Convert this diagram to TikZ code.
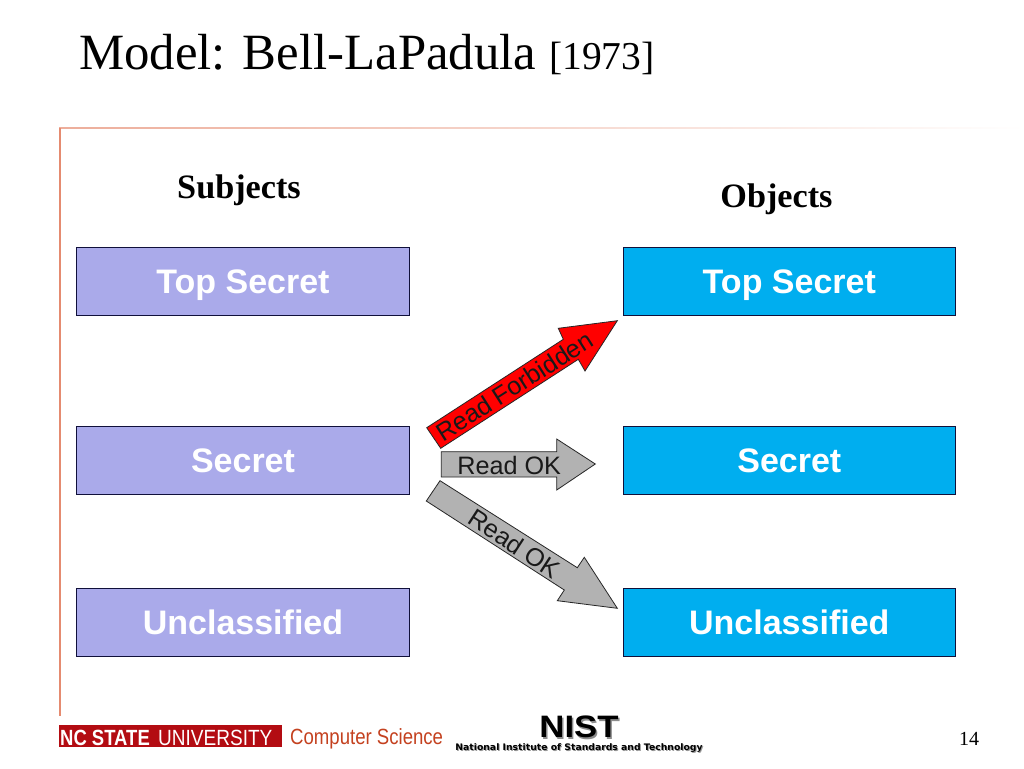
\documentclass[tikz,border=0pt]{standalone}
\usepackage{fontspec}
\setmainfont{Liberation Serif}
\setsansfont{Liberation Sans}
\newfontfamily\dejab{DejaVu Sans}
\definecolor{subjfill}{HTML}{AAAAEA}
\definecolor{objfill}{HTML}{00AEEF}
\definecolor{boxedge}{HTML}{10103A}
\definecolor{arrowgray}{HTML}{B2B2B2}
\definecolor{ncred}{HTML}{B30C12}
\definecolor{cstext}{HTML}{C4411F}
\definecolor{rulecol}{HTML}{E58B70}
\tikzset{
  x=1pt,y=-1pt,
  levelbox/.style={draw=boxedge,line width=0.9pt,minimum width=332.5pt,minimum height=68.5pt,inner sep=0pt,text height=24pt,text depth=0pt,text=white,font=\sffamily\bfseries\fontsize{34}{36}\selectfont},
  subjbox/.style={levelbox,fill=subjfill},
  objbox/.style={levelbox,fill=objfill},
  blockarrow/.style={draw=black!85,line width=0.8pt,line join=miter},
  arrowlabel/.style={inner sep=0pt,text height=18pt,text depth=0pt,font=\sffamily\fontsize{25.2}{28}\selectfont,text=black!90},
  heading/.style={inner sep=0pt,font=\rmfamily\bfseries\fontsize{34.2}{36}\selectfont}
}
\begin{document}
\begin{tikzpicture}
\useasboundingbox (0,0) rectangle (1024,768);
\fill[white] (0,0) rectangle (1024,768);
% title
\node[inner sep=0pt,anchor=base west,font=\rmfamily\fontsize{50.8}{56}\selectfont] (title) at (79,69) {Model: Bell-LaPadula};
\node[inner sep=0pt,anchor=base west,font=\rmfamily\fontsize{39.5}{42}\selectfont] (year) at (549,69) {[1973]};
% frame rules
\fill[left color=rulecol!70,right color=white] (59,127.2) rectangle (1024,128.8);
\fill[rulecol] (58.6,128) rectangle (60.6,716);
% headings
\node[heading,anchor=base] (subj) at (239,198) {Subjects};
\node[heading,anchor=base] (obj) at (776.5,207) {Objects};
% boxes
\node[subjbox] (s1) at (243,281.5) {Top Secret};
\node[subjbox] (s2) at (243,460.5) {Secret};
\node[subjbox] (s3) at (243,622.5) {Unclassified};
\node[objbox] (o1) at (789.3,281.5) {Top Secret};
\node[objbox] (o2) at (789.3,460.5) {Secret};
\node[objbox] (o3) at (789.3,622.5) {Unclassified};
% block arrows
\draw[blockarrow,fill=red] (426.7,427.7) -- (563.3,339.3) -- (558.3,328.3) -- (617.3,320.7) -- (585,371) -- (578.3,359.3) -- (440.7,448.3) -- cycle;
\draw[blockarrow,fill=arrowgray] (441.3,451.7) -- (556.7,451.7) -- (556.7,439) -- (595.3,464) -- (556.7,490) -- (556.7,477) -- (441.3,477) -- cycle;
\draw[blockarrow,fill=arrowgray] (440,480.7) -- (577.3,567.7) -- (584.3,557.3) -- (617.3,608.3) -- (557.3,600.7) -- (564.3,590) -- (426.3,501) -- cycle;
\node[arrowlabel,rotate=32.5] (lf) at (514.5,386) {Read Forbidden};
\node[arrowlabel] (lo) at (509.2,465) {Read OK};
\node[arrowlabel,rotate=-33] (ld) at (514.5,543.5) {Read OK};
% footer
\fill[ncred] (59,725) rectangle (282,747);
\node[inner sep=0pt,anchor=base west,text=white,font=\sffamily\bfseries\fontsize{22}{24}\selectfont,xscale=0.84] (nc) at (60,745) {NC STATE};
\node[inner sep=0pt,anchor=base west,text=white,font=\sffamily\fontsize{22}{24}\selectfont,xscale=0.865] (ncu) at (158,745) {UNIVERSITY};
\node[inner sep=0pt,anchor=base west,text=cstext,font=\sffamily\fontsize{22}{24}\selectfont,xscale=0.845] (cs) at (290,744) {Computer Science};
% NIST logo
\node[inner sep=0pt,anchor=base,text=black!45,font=\sffamily\bfseries\fontsize{31}{33}\selectfont,xscale=1.12] at (580.5,739) {NIST};
\node[inner sep=0pt,anchor=base,font=\sffamily\bfseries\fontsize{31}{33}\selectfont,xscale=1.12] (nist) at (579,737) {NIST};
\node[inner sep=0pt,anchor=base,text=black!40,font=\dejab\bfseries\fontsize{9}{10}\selectfont,xscale=1.03] at (580,751.5) {National Institute of Standards and Technology};
\node[inner sep=0pt,anchor=base,font=\dejab\bfseries\fontsize{9}{10}\selectfont,xscale=1.03] (nist2) at (579,750.5) {National Institute of Standards and Technology};
\node[inner sep=0pt,anchor=base,font=\rmfamily\fontsize{20}{22}\selectfont] (pg) at (969,745) {14};
\end{tikzpicture}
\end{document}
